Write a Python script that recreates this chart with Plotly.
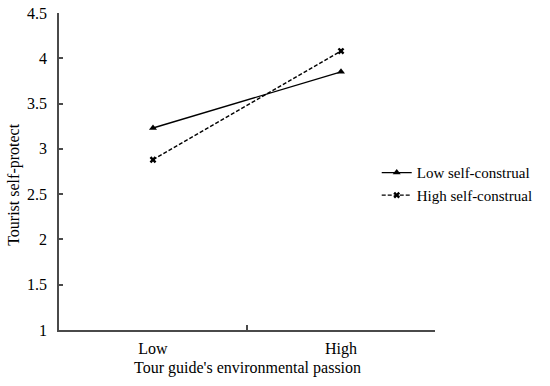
import plotly.graph_objects as go

categories = ["Low", "High"]
low_sc = [3.23, 3.85]
high_sc = [2.88, 4.08]
series_names = ["Low self-construal", "High self-construal"]
y_ticks = [1, 1.5, 2, 2.5, 3, 3.5, 4, 4.5]
y_tick_labels = ["1", "1.5", "2", "2.5", "3", "3.5", "4", "4.5"]
x_title = "Tour guide's environmental passion"
y_title = "Tourist self-protect"

FONT = "Liberation Serif, Times New Roman, serif"
AX = "#4a4a4a"

fig = go.Figure()
fig.add_trace(go.Scatter(
    x=categories, y=low_sc, name=series_names[0], mode="lines+markers",
    line=dict(color="black", width=1.4),
    marker=dict(symbol="triangle-up", size=7, color="black"),
))
fig.add_trace(go.Scatter(
    x=categories, y=high_sc, name=series_names[1], mode="lines+markers",
    line=dict(color="black", width=1.4, dash="4px,2px"),
    marker=dict(symbol="x", size=6, color="black"),
))

fig.update_layout(
    width=550, height=386,
    margin=dict(l=59, r=111, t=13, b=56),
    plot_bgcolor="white", paper_bgcolor="white",
    font=dict(family=FONT, size=16, color="black"),
    xaxis=dict(
        type="category", range=[-0.5, 1.5], automargin=False,
        showgrid=False, zeroline=False,
        showline=True, linecolor=AX, linewidth=1.5,
        ticks="inside", tickson="boundaries", ticklen=5,
        tickcolor=AX, tickwidth=1.5,
        tickfont=dict(size=16), ticklabelstandoff=3,
    ),
    yaxis=dict(
        range=[1, 4.5], automargin=False, showgrid=False, zeroline=False,
        showline=True, linecolor=AX, linewidth=1.5,
        tickvals=y_ticks, ticktext=y_tick_labels, ticks="inside",
        ticklen=4, tickcolor=AX, tickwidth=1.5,
        tickfont=dict(size=16), ticklabelstandoff=7,
        ticklabeloverflow="allow",
    ),
    legend=dict(x=0.845, xanchor="left", y=0.461, yanchor="middle",
                font=dict(size=15), tracegroupgap=0, itemwidth=30,
                bgcolor="rgba(0,0,0,0)"),
    showlegend=True,
    annotations=[
        dict(text=x_title, xref="paper", yref="paper", x=0.5, y=-0.12,
             xanchor="center", yanchor="middle", showarrow=False,
             font=dict(size=16)),
        dict(text=y_title, xref="paper", yref="paper", x=-0.118, y=0.46,
             xanchor="center", yanchor="middle", showarrow=False,
             textangle=-90, font=dict(size=16)),
    ],
)
fig.write_html("out.html", config={"displayModeBar": False},
               post_script="document.body.style.margin='0';")
